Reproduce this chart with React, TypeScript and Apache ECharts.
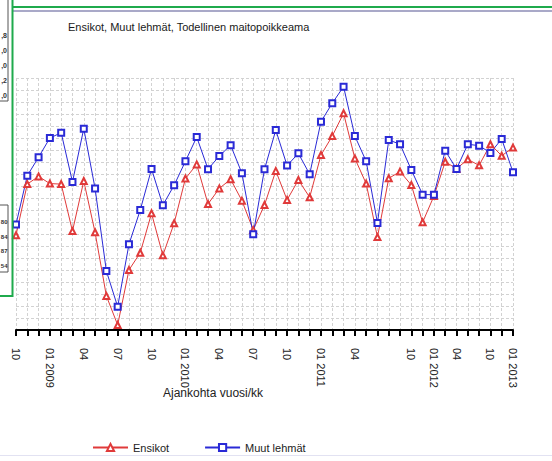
import React, { useEffect, useRef } from "react";
import * as echarts from "echarts";

const categories = [
  "2008-10", "2008-11", "2008-12",
  "2009-01", "2009-02", "2009-03", "2009-04", "2009-05", "2009-06",
  "2009-07", "2009-08", "2009-09", "2009-10", "2009-11", "2009-12",
  "2010-01", "2010-02", "2010-03", "2010-04", "2010-05", "2010-06",
  "2010-07", "2010-08", "2010-09", "2010-10", "2010-11", "2010-12",
  "2011-01", "2011-02", "2011-03", "2011-04", "2011-05", "2011-06",
  "2011-08", "2011-09", "2011-10", "2011-11",
  "2012-01", "2012-03", "2012-04", "2012-05", "2012-08", "2012-10", "2012-12",
  "2013-01",
];

const ensikot = [
  -2.05, 0.08, 0.4,
  0.1, 0.08, -1.88, 0.21, -1.93, -4.58,
  -5.79, -3.5, -2.78, -1.14, -2.89, -1.55,
  0.31, 0.9, -0.75, -0.1, 0.28, -0.61,
  -1.83, -0.79, 0.63, -0.58, 0.25, -0.47,
  1.29, 2.08, 3.03, 1.15, 0.1, -2.13,
  0.32, 0.6, 0.04, -1.51,
  -0.42, 1.01, 0.72, 1.11, 0.86, 1.74, 1.26,
  1.6,
];

const muutLehmat = [
  -1.6, 0.43, 1.2,
  2.0, 2.22, 0.17, 2.39, -0.1, -3.54,
  -5.03, -2.43, -1.0, 0.71, -0.8, 0.03,
  1.03, 2.04, 0.7, 1.25, 1.7, 0.53,
  -2.01, 0.7, 2.33, 0.85, 1.36, 0.49,
  2.68, 3.45, 4.14, 2.08, 1.03, -1.54,
  1.92, 1.74, 0.67, -0.36,
  -0.36, 1.47, 0.71, 1.74, 1.68, 1.38, 1.96,
  0.57,
];

const labeledMonths = ["01", "04", "07", "10"];
const seriesNames = ["Ensikot", "Muut lehmät"];
const leftBoxTop = [",8", ",0", ",0", ",2", ",0"];
const leftBoxBottom = ["80", "84", "87", "54"];

const FONT = "'Liberation Sans', Arial, sans-serif";

export default function App() {
  const ref = useRef<HTMLDivElement>(null);

  useEffect(() => {
    if (!ref.current) return;
    const chart = echarts.init(ref.current, null, { renderer: "svg" });

    const graphics: any[] = [
      { type: "line", z: 100, shape: { x1: 12, y1: 7, x2: 552, y2: 7 }, style: { stroke: "#1faa4c", lineWidth: 2 } },
      { type: "line", z: 100, shape: { x1: 13, y1: 11, x2: 552, y2: 11 }, style: { stroke: "#a9a9c8", lineWidth: 2 } },
      { type: "line", z: 100, shape: { x1: 12.5, y1: 0, x2: 12.5, y2: 297 }, style: { stroke: "#1faa4c", lineWidth: 2 } },
      { type: "line", z: 100, shape: { x1: 0, y1: 296, x2: 13, y2: 296 }, style: { stroke: "#1faa4c", lineWidth: 2 } },
      { type: "rect", z: 100, shape: { x: -2, y: -2, width: 10, height: 103 }, style: { fill: "#fff", stroke: "#555", lineWidth: 1 } },
      { type: "rect", z: 100, shape: { x: -2, y: 205, width: 10, height: 67 }, style: { fill: "#fff", stroke: "#555", lineWidth: 1 } },
      { type: "line", z: 100, shape: { x1: 0, y1: 455.5, x2: 552, y2: 455.5 }, style: { stroke: "#e2e2f2", lineWidth: 1 } },
      {
        type: "text", z: 100, left: 163, top: 387,
        style: { text: "Ajankohta vuosi/kk", font: `12px ${FONT}`, fill: "#222" },
      },
    ];
    leftBoxTop.forEach((t, i) => {
      graphics.push({
        type: "text", z: 101, x: 7, y: 35 + i * 15,
        style: { text: t, font: `bold 7px ${FONT}`, fill: "#333", align: "right", verticalAlign: "middle" },
      });
    });
    leftBoxBottom.forEach((t, i) => {
      graphics.push({
        type: "text", z: 101, x: 7.5, y: 222 + i * 14.7,
        style: { text: t, font: `bold 6px ${FONT}`, fill: "#333", align: "right", verticalAlign: "middle" },
      });
    });

    chart.setOption({
      animation: false,
      backgroundColor: "#ffffff",
      textStyle: { fontFamily: FONT },
      title: {
        text: "Ensikot, Muut lehmät, Todellinen maitopoikkeama",
        left: 63,
        top: 16,
        textStyle: { fontSize: 11, fontWeight: "normal", color: "#1a1a1a", fontFamily: FONT },
      },
      legend: {
        left: 87,
        top: 437,
        itemWidth: 35,
        itemHeight: 9,
        itemGap: 35,
        textStyle: { fontSize: 11, color: "#222", fontFamily: FONT },
        data: seriesNames,
      },
      grid: { left: 16, right: 39, top: 78, bottom: 131, containLabel: false },
      xAxis: {
        type: "category",
        data: categories,
        boundaryGap: false,
        axisLine: { show: true, onZero: false, lineStyle: { color: "#000", width: 2 } },
        axisTick: { show: true, interval: 0, length: 6, lineStyle: { color: "#000", width: 2 } },
        splitLine: { show: true, interval: 0, lineStyle: { color: "#d2d2d2", width: 1, type: [3, 2] } },
        axisLabel: {
          interval: 0,
          rotate: -90,
          margin: 18,
          fontSize: 11,
          color: "#222",
          fontFamily: FONT,
          formatter: (val: string) => {
            const [y, m] = val.split("-");
            if (m === "01") return `01 ${y}`;
            if (labeledMonths.includes(m)) return m;
            return "";
          },
        },
      },
      yAxis: {
        type: "value",
        min: -6,
        max: 4.5,
        interval: 0.5,
        axisLine: { show: false },
        axisTick: { show: false },
        axisLabel: { show: false },
        splitLine: { show: true, lineStyle: { color: "#d2d2d2", width: 1, type: [3, 2] } },
      },
      graphic: graphics,
      series: [
        {
          name: seriesNames[0],
          type: "line",
          data: ensikot,
          symbol: "emptyTriangle",
          symbolSize: 6,
          lineStyle: { color: "#e03a3a", width: 1 },
          itemStyle: { color: "#e03a3a", borderColor: "#e03a3a", borderWidth: 1 },
        },
        {
          name: seriesNames[1],
          type: "line",
          data: muutLehmat,
          symbol: "emptyRect",
          symbolSize: 6,
          lineStyle: { color: "#2a2ad6", width: 1 },
          itemStyle: { color: "#2a2ad6", borderColor: "#2a2ad6", borderWidth: 1 },
        },
      ],
    });

    return () => chart.dispose();
  }, []);

  return (
    <div
      ref={ref}
      style={{ position: "absolute", left: 0, top: 0, width: 552, height: 461 }}
    />
  );
}
